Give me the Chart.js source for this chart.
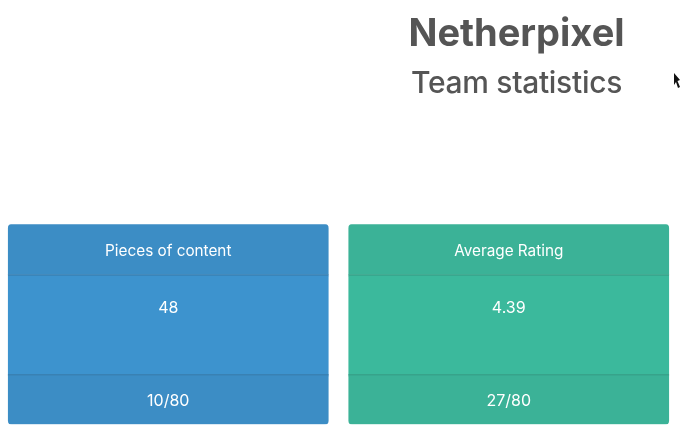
<!DOCTYPE html>
<html>
<head>
<meta charset="utf-8">
<title>Netherpixel</title>
<script src="https://cdn.jsdelivr.net/npm/chart.js@4"></script>
<style>
    html, body { margin: 0; padding: 0; background: #fff; overflow: hidden; }
    body { width: 680px; height: 434px; position: relative; font-family: Inter, sans-serif; color: #555; }
    h1, h2 { position: absolute; left: 353px; width: 327px; margin: 0; text-align: center; white-space: nowrap; will-change: transform; }
    h1 { top: 9px; font-size: 38px; line-height: 46px; font-weight: 700; letter-spacing: 0; }
    h2 { top: 63px; font-size: 30px; line-height: 38px; font-weight: 500; letter-spacing: -0.3px; }
    #wrap { position: absolute; left: -2px; top: 0; width: 681px; height: 434px; }
    #cursor { position: absolute; left: 674px; top: 73px; }
</style>
</head>
<body>
<h1 id="teamName"></h1>
<h2 id="pageName"></h2>
<svg id="cursor" width="6" height="19" viewBox="0 0 6 19"><path d="M0 0 L6 7 L3.5 8 L6 14 L4 15 L2 9 L0 12 Z" fill="#111"/></svg>
<div id="wrap"><canvas id="cards"></canvas></div>

<script>
const teamName = 'Netherpixel';
const pageName = 'Team statistics';
const cardTitles = ['Pieces of content', 'Average Rating'];
const cardValues = ['48', '4.39'];
const cardRanks = ['10/80', '27/80'];

// colours per card: blue, green
const headColors = ['#3c8dc5', '#3bb297'];
const bodyColors = ['#3d93ce', '#3bb99c'];
const lineColors = ['#3981b3', '#37a38a'];

// card sections from bottom to top, heights in px
const sections = [
    { height: 48.5, color: headColors, radius: { bottomLeft: 4, bottomRight: 4 } },
    { height: 1.5, color: lineColors },
    { height: 98.5, color: bodyColors },
    { height: 1.5, color: lineColors },
    { height: 50.3, color: headColors, radius: { topLeft: 4, topRight: 4 } }
];
const cardHeight = sections.reduce((sum, s) => sum + s.height, 0);

document.getElementById('teamName').textContent = teamName;
document.getElementById('pageName').textContent = pageName;

// draws the card texts in the middle of their sections
const cardText = {
    id: 'cardText',
    afterDatasetsDraw(chart) {
        const ctx = chart.ctx;
        const top = chart.scales.y.getPixelForValue(cardHeight);
        ctx.save();
        ctx.fillStyle = '#fff';
        ctx.textAlign = 'center';
        ctx.textBaseline = 'alphabetic';
        cardTitles.forEach((title, i) => {
            const x = chart.scales.x.getPixelForValue(i);
            ctx.font = '400 15.3px Inter, sans-serif';
            ctx.fillText(title, x, top + 31.5);
            ctx.font = '400 16px Inter, sans-serif';
            ctx.fillText(cardValues[i], x, top + 89);
            ctx.fillText(cardRanks[i], x, top + 181.5);
        });
        ctx.restore();
    }
};

new Chart(document.getElementById('cards').getContext('2d'), {
    type: 'bar',
    data: {
        labels: cardTitles,
        datasets: sections.map(s => ({
            data: cardTitles.map(() => s.height),
            backgroundColor: s.color,
            borderRadius: s.radius || 0,
            borderSkipped: false,
            barThickness: 320,
            stack: 'card'
        }))
    },
    options: {
        responsive: true,
        maintainAspectRatio: false,
        animation: false,
        layout: { padding: { top: 224.3, bottom: 9.7, left: 0, right: 0 } },
        plugins: { legend: { display: false }, tooltip: { enabled: false } },
        scales: {
            x: { display: false, stacked: true },
            y: { display: false, stacked: true, min: 0, max: cardHeight }
        }
    },
    plugins: [cardText]
});
</script>
</body>
</html>
